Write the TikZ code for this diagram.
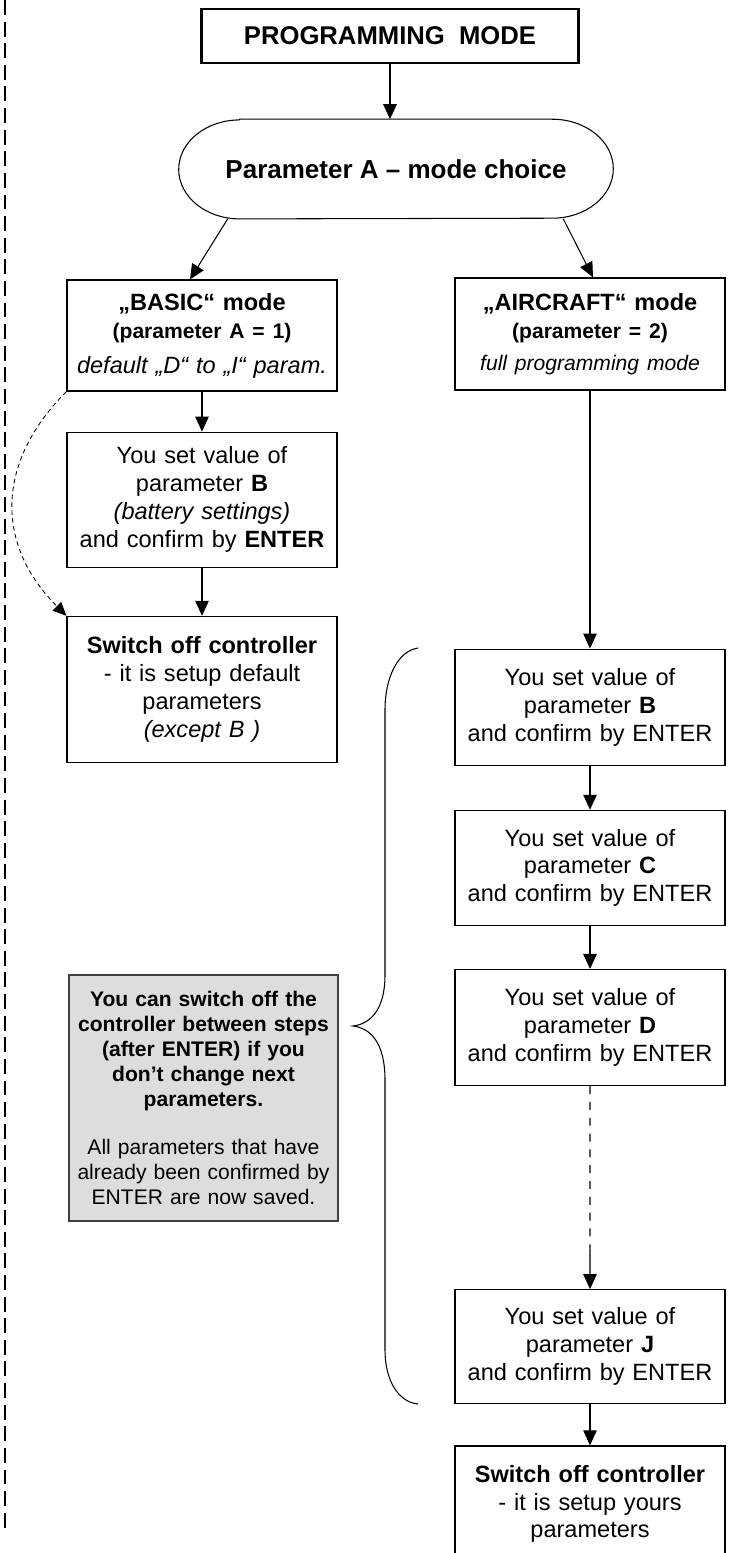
\documentclass[tikz,border=0pt]{standalone}
\usepackage{fontspec}
\setmainfont{Liberation Sans}
\usetikzlibrary{arrows.meta,calc,positioning}
\definecolor{notegray}{HTML}{DDDDDD}

\begin{document}
\begin{tikzpicture}[x=0.02cm,y=-0.02cm,>={Triangle[length=0.3cm,width=0.27cm]}]
    \tikzstyle{titlebox}=[rectangle,draw=black,line width=1.4pt,inner sep=0pt,
    font=\fontsize{14.6}{17}\selectfont\bfseries,minimum width=7.54cm,minimum height=1.08cm]
    \tikzstyle{choicebox}=[rectangle,inner sep=0pt,font=\fontsize{14.8}{17}\selectfont\bfseries,
    minimum width=8.68cm,minimum height=1.98cm]
    \tikzstyle{stepbox}=[rectangle,draw=black,line width=0.7pt,font=\fontsize{13.4}{15.9}\selectfont,
    align=center,text width=5.3cm,inner xsep=0.05cm,inner ysep=0pt,minimum height=2.32cm]
    \tikzstyle{notebox}=[rectangle,draw=black!75,line width=0.8pt,fill=notegray,
    font=\fontsize{12}{14.2}\selectfont,align=center,text width=5.2cm,inner xsep=0.09cm,
    inner ysep=0pt,minimum height=4.92cm]
    \tikzstyle{link}=[->,line width=0.6pt]

    \useasboundingbox (0,0) rectangle (735,1553);
    \clip (0,0) rectangle (735,1553);

    % margin line
    \draw[line width=1.2pt,dash pattern=on 8.5pt off 3.8pt] (5,0) -- (5,1528);

    \node[titlebox](prog) at (390,36){PROGRAMMING\ \ MODE};
    \node[choicebox](choice)[below=1.1cm of prog,xshift=0.12cm]{Parameter A – mode choice};
    \draw[line width=0.6pt] ([xshift=1.22cm]choice.north west) -- ([xshift=-1.22cm]choice.north east)
      arc[start angle=90,end angle=-90,x radius=1.22cm,y radius=0.99cm]
      -- ([xshift=1.22cm]choice.south west)
      arc[start angle=270,end angle=90,x radius=1.22cm,y radius=0.99cm] -- cycle;

    % basic mode
    \node[stepbox,minimum height=2.22cm](basic) at (202,335.5){{\bfseries „BASIC“ mode}\\
      {\fontsize{12}{15.3}\selectfont\bfseries (parameter A = 1)}\\[4pt]
      {\itshape default „D“ to „I“ param.}};
    \node[stepbox,minimum height=2.7cm](setbl)[below=0.8cm of basic]{You set value of\\
      parameter \textbf{B}\\\textit{(battery settings)}\\and confirm by \textbf{ENTER}};
    \node[stepbox,minimum height=2.92cm](offl)[below=0.96cm of setbl]{\textbf{Switch off controller}\\
      - it is setup default\\parameters\\\textit{(except B )}};

    % aircraft mode
    \node[stepbox,minimum height=2.24cm](air) at (590,334){{\bfseries „AIRCRAFT“ mode}\\
      {\fontsize{12}{15.3}\selectfont\bfseries (parameter = 2)}\\[2pt]
      {\fontsize{12}{15.3}\selectfont\itshape full programming mode}};
    \node[stepbox](setbr)[below=5.16cm of air]{You set value of\\parameter \textbf{B}\\and confirm by ENTER};
    \node[stepbox,minimum height=2.3cm](setc)[below=0.88cm of setbr]{You set value of\\parameter \textbf{C}\\and confirm by ENTER};
    \node[stepbox](setd)[below=0.86cm of setc]{You set value of\\parameter \textbf{D}\\and confirm by ENTER};
    \node[stepbox,minimum height=2.28cm](setj)[below=4.06cm of setd]{You set value of\\parameter \textbf{J}\\and confirm by ENTER};
    \node[stepbox](offr)[below=0.82cm of setj]{\textbf{Switch off controller}\\- it is setup yours\\parameters};

    \node[notebox](note) at (203.5,1098){{\bfseries You can switch off the\\controller between steps\\
      (after ENTER) if you\\don’t change next\\parameters.}\\[13pt]
      All parameters that have\\already been confirmed by\\ENTER are now saved.};

    \draw[link](prog.south) -- (prog.south |- choice.north);
    \draw[link]($(choice.south west)+(49,0)$) -- ($(basic.north)+(-12,0)$);
    \draw[link]($(choice.south east)+(-50,0)$) -- ($(air.north)+(3,0)$);

    \draw[link](basic) -- (setbl);
    \draw[link](setbl) -- (offl);
    \draw[->,line width=0.5pt,dash pattern=on 2.5pt off 2pt,>={Triangle[length=0.27cm,width=0.24cm]}]
      (basic.south west) to[out=225,in=135,looseness=1.15] (offl.north west);

    \draw[link](air) -- (setbr);
    \draw[link](setbr) -- (setc);
    \draw[link](setc) -- (setd);
    \coordinate (jbrk) at ($(setd.south)!0.8!(setj.north)$);
    \draw[line width=0.7pt,dash pattern=on 4.5pt off 4.5pt](setd) -- (jbrk);
    \draw[link](jbrk) -- (setj);
    \draw[link](setj) -- (offr);

    % brace
    \draw[line width=0.6pt] (418,648) .. controls (398,651) and (385,677) .. (385,710) -- (385,975)
      .. controls (385,1010) and (370,1024) .. (353,1026) .. controls (370,1028) and (385,1042) .. (385,1080)
      -- (385,1350) .. controls (385,1380) and (398,1402) .. (418,1404);
\end{tikzpicture}
\end{document}
